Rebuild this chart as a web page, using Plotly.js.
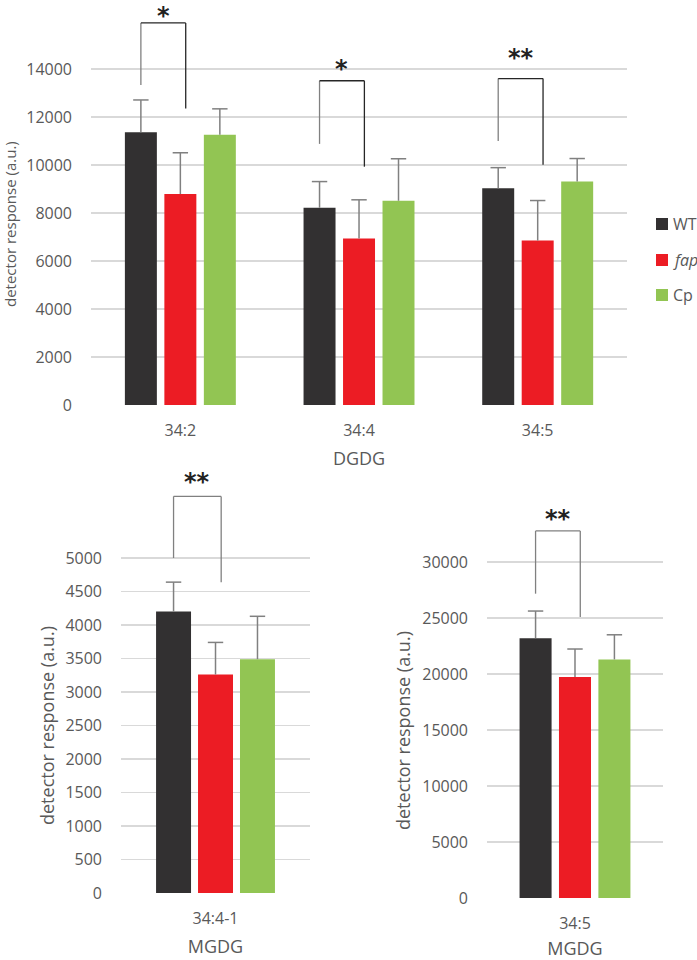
<!DOCTYPE html>
<html>
<head>
<meta charset="utf-8">
<script src="https://cdn.plot.ly/plotly-3.0.1.min.js"></script>
<style>
  html, body { margin: 0; padding: 0; background: #ffffff; }
  #chart { width: 697px; height: 960px; }
</style>
</head>
<body>
<div id="chart"></div>
<script>
// DGDG (top panel)
const dgdgSpecies = ['34:2', '34:4', '34:5'];
const dgdgWT = [11360, 8220, 9030];
const dgdgWTErr = [1350, 1090, 860];
const dgdgFap = [8790, 6940, 6850];
const dgdgFapErr = [1720, 1610, 1670];
const dgdgCp = [11260, 8510, 9310];
const dgdgCpErr = [1080, 1750, 960];

// MGDG 34:4-1 (bottom left)
const mgdgASpecies = ['34:4-1'];
const mgdgAWT = [4200];
const mgdgAWTErr = [440];
const mgdgAFap = [3260];
const mgdgAFapErr = [480];
const mgdgACp = [3490];
const mgdgACpErr = [640];

// MGDG 34:5 (bottom right)
const mgdgBSpecies = ['34:5'];
const mgdgBWT = [23200];
const mgdgBWTErr = [2420];
const mgdgBFap = [19730];
const mgdgBFapErr = [2500];
const mgdgBCp = [21300];
const mgdgBCpErr = [2200];

// significance brackets: category index, top, left leg end, right leg end, label height, label
const dgdgSigIndex = [0, 1, 2];
const dgdgSigTop = [15920, 13510, 13600];
const dgdgSigLeft = [13330, 10880, 11000];
const dgdgSigRight = [12350, 9930, 10010];
const dgdgSigLabelY = [16375, 14170, 14625];
const dgdgSigLabel = ['*', '*', '**'];

const mgdgASig = { top: 5920, left: 5000, right: 4640, labelY: 6194, label: '**' };
const mgdgBSig = { top: 32770, left: 27170, right: 25090, labelY: 34196, label: '**' };

const seriesNames = ['WT', '<i>fap</i>', 'Cp'];
const seriesColors = ['#323031', '#ec1c24', '#92c553'];
const yTitle = 'detector response (a.u.)';
const textColor = '#595959';
const gridColor = '#d9d9d9';
const errColor = '#808080';
const fontFamily = '"Open Sans", sans-serif';

function barTraces(cats, vals, errs, xa, ya, slot, width) {
  const idx = cats.map((c, i) => i);
  const out = [];
  vals.forEach((v, i) => {
    const off = (i - 1) * slot;
    out.push({
      type: 'bar',
      x: idx,
      y: v,
      name: seriesNames[i],
      showlegend: false,
      xaxis: xa,
      yaxis: ya,
      width: width,
      offset: off - width / 2,
      marker: { color: seriesColors[i], line: { width: 0 } },
      error_y: { type: 'data', array: errs[i], symmetric: false, arrayminus: errs[i].map(() => 0),
                 color: errColor, thickness: 1.5, width: 0 },
      hoverinfo: 'y',
    });
    // caps on the upper end of the error bars only
    out.push({
      type: 'scatter',
      mode: 'markers',
      x: idx.map(k => k + off),
      y: v.map((val, k) => val + errs[i][k]),
      showlegend: false,
      xaxis: xa,
      yaxis: ya,
      marker: { symbol: 'line-ew', size: 11, color: errColor, line: { color: errColor, width: 1.5 } },
      hoverinfo: 'skip',
    });
  });
  return out;
}

const traces = [
  ...barTraces(dgdgSpecies, [dgdgWT, dgdgFap, dgdgCp], [dgdgWTErr, dgdgFapErr, dgdgCpErr], 'x', 'y', 0.221, 0.179),
  ...barTraces(mgdgASpecies, [mgdgAWT, mgdgAFap, mgdgACp], [mgdgAWTErr, mgdgAFapErr, mgdgACpErr], 'x2', 'y2', 0.222, 0.185),
  ...barTraces(mgdgBSpecies, [mgdgBWT, mgdgBFap, mgdgBCp], [mgdgBWTErr, mgdgBFapErr, mgdgBCpErr], 'x3', 'y3', 0.224, 0.182),
];

// Bracket shapes + star labels
const shapes = [];
const annotations = [];
function addBracket(xa, ya, idx, slot, top, left, right, labelY, label, legColor, topColor) {
  const xl = idx - slot;
  const xr = idx + 0.03;
  shapes.push({ type: 'line', xref: xa, yref: ya, x0: xl, x1: xl, y0: left, y1: top, line: { color: legColor, width: 1.3 } });
  shapes.push({ type: 'line', xref: xa, yref: ya, x0: xl, x1: xr, y0: top, y1: top, line: { color: topColor, width: 1.3 } });
  shapes.push({ type: 'line', xref: xa, yref: ya, x0: xr, x1: xr, y0: top, y1: right, line: { color: topColor, width: 1.3 } });
  annotations.push({
    xref: xa, yref: ya, x: (xl + xr) / 2, y: labelY, text: label, showarrow: false,
    xanchor: 'center', yanchor: 'middle', yshift: -4,
    font: { family: 'DejaVu Sans', size: 24, color: '#222222', weight: 'bold' },
  });
}
dgdgSigIndex.forEach((idx, k) => {
  addBracket('x', 'y', idx, 0.221, dgdgSigTop[k], dgdgSigLeft[k], dgdgSigRight[k], dgdgSigLabelY[k], dgdgSigLabel[k], '#808080', '#262626');
});
addBracket('x2', 'y2', 0, 0.222, mgdgASig.top, mgdgASig.left, mgdgASig.right, mgdgASig.labelY, mgdgASig.label, '#808080', '#808080');
addBracket('x3', 'y3', 0, 0.224, mgdgBSig.top, mgdgBSig.left, mgdgBSig.right, mgdgBSig.labelY, mgdgBSig.label, '#808080', '#808080');

// legend drawn by hand at the right of the DGDG panel
const legendY = [224, 260, 295];
seriesNames.forEach((name, i) => {
  const yc = 1 - legendY[i] / 960;
  shapes.push({ type: 'rect', xref: 'paper', yref: 'paper',
    x0: 656 / 697, x1: 668 / 697, y0: yc - 6 / 960, y1: yc + 6 / 960,
    fillcolor: seriesColors[i], line: { width: 0 } });
  annotations.push({ xref: 'paper', yref: 'paper', x: 671 / 697, y: yc, text: name, showarrow: false,
    xanchor: 'left', yanchor: 'middle', font: { family: fontFamily, size: 16, color: textColor } });
});

// y axis titles (placed like the spreadsheet originals, a bit below the axis middle)
[[10, 224, 15], [47, 726, 18], [403, 731, 18]].forEach(([px, py, size]) => {
  annotations.push({ xref: 'paper', yref: 'paper', x: px / 697, y: 1 - py / 960, text: yTitle,
    textangle: -90, showarrow: false, xanchor: 'center', yanchor: 'middle',
    font: { family: fontFamily, size: size, color: textColor } });
});

function catAxis(domain, anchor, cats, title) {
  return {
    domain: domain, anchor: anchor, range: [-0.5, cats.length - 0.5],
    tickvals: cats.map((c, i) => i), ticktext: cats,
    showgrid: false, zeroline: false, showline: false, ticks: '',
    tickfont: { family: fontFamily, size: 16, color: textColor },
    ticklabelstandoff: 14,
    title: { text: title, font: { family: fontFamily, size: 18, color: textColor }, standoff: 12 },
    fixedrange: true,
  };
}
function valAxis(domain, anchor, range, tickvals) {
  return {
    domain: domain, anchor: anchor, range: range, tickvals: tickvals, tickformat: 'd',
    showgrid: true, gridcolor: gridColor, gridwidth: 1.3,
    zeroline: false, showline: false, ticks: '',
    tickfont: { family: fontFamily, size: 16, color: textColor },
    ticklabelstandoff: 18,
    fixedrange: true,
  };
}

const layout = {
  width: 697,
  height: 960,
  margin: { l: 0, r: 0, t: 0, b: 0 },
  paper_bgcolor: '#ffffff',
  plot_bgcolor: '#ffffff',
  barmode: 'group',
  showlegend: false,
  font: { family: fontFamily, color: textColor },
  xaxis: catAxis([0.1306, 0.8996], 'y', dgdgSpecies, 'DGDG'),
  yaxis: valAxis([0.5781, 0.9948], 'x', [0, 16667], [0, 2000, 4000, 6000, 8000, 10000, 12000, 14000]),
  xaxis2: catAxis([0.1736, 0.4448], 'y2', mgdgASpecies, 'MGDG'),
  yaxis2: valAxis([0.0698, 0.5052], 'x2', [0, 6239], [0, 500, 1000, 1500, 2000, 2500, 3000, 3500, 4000, 4500, 5000]),
  xaxis3: catAxis([0.6987, 0.9512], 'y3', mgdgBSpecies, 'MGDG'),
  yaxis3: valAxis([0.0646, 0.4896], 'x3', [0, 36429], [0, 5000, 10000, 15000, 20000, 25000, 30000]),
  shapes: shapes,
  annotations: annotations,
};

Plotly.newPlot('chart', traces, layout, { staticPlot: true });
</script>
</body>
</html>
